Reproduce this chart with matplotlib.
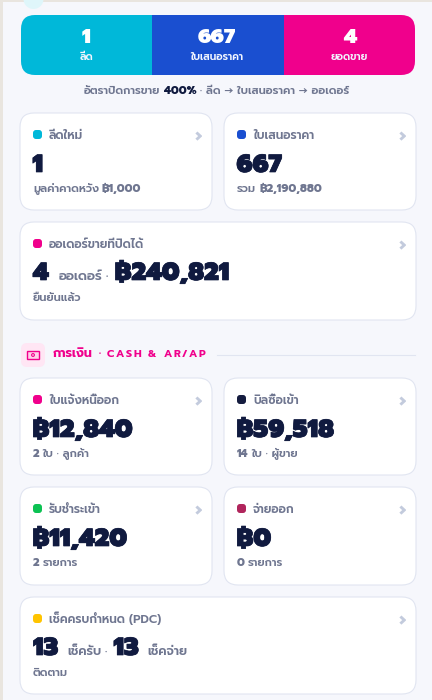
import matplotlib
matplotlib.use("Agg")
import matplotlib.pyplot as plt
import matplotlib.patheffects as pe
from matplotlib.patches import FancyBboxPatch, Rectangle, Circle

FAM = ["Prompt", "Noto Sans Thai", "DejaVu Sans"]
NAVY = "#101a3f"
GREY = "#6f7690"
BORDER = "#e1e5f1"

FUNNEL_VALUES = ["1", "667", "4"]
FUNNEL_LABELS = ["ลีด", "ใบเสนอราคา", "ยอดขาย"]
FUNNEL_COLORS = ["#00b8d9", "#1a4fd0", "#f0008c"]
CARD_TITLES = ["ลีดใหม่", "ใบเสนอราคา", "ออเดอร์ขายที่ปิดได้", "ใบแจ้งหนี้ออก", "บิลซื้อเข้า",
               "รับชำระเข้า", "จ่ายออก", "เช็คครบกำหนด (PDC)"]
CARD_VALUES = ["1", "667", "4", "฿12,840", "฿59,518", "฿11,420", "฿0", "13"]
# Each sub line: (plain before, bold figure, plain after)
CARD_SUBS = [("มูลค่าคาดหวัง", "฿1,000", ""), ("รวม", "฿2,190,880", ""), ("ยืนยันแล้ว", "", ""),
             ("", "2", "ใบ · ลูกค้า"), ("", "14", "ใบ · ผู้ขาย"),
             ("", "2", "รายการ"), ("", "0", "รายการ"), ("ติดตาม", "", "")]
CARD_DOTS = ["#00b8d9", "#1a4fd0", "#f0008c", "#f0008c", "#151c3f", "#0cc253", "#b0255c", "#ffc400"]
ORDER_VALUE = "฿240,821"
HEADER_THAI = "การเงิน"
HEADER_LATIN = "CASH & AR/AP"

BIG = 17.9
BIG_FX = [pe.withStroke(linewidth=0.5, foreground=NAVY)]

fig = plt.figure(figsize=(4.32, 7.0), dpi=100, facecolor="#f6f7fc")
ax = fig.add_axes([0, 0, 1, 1])
ax.set_xlim(0, 432)
ax.set_ylim(700, 0)
ax.axis("off")
rend = fig.canvas.get_renderer()


def T(x, y, s, size, color=GREY, weight=500, ha="left", **kw):
    t = ax.text(x, y, s, fontsize=size, color=color, fontweight=weight, ha=ha, va="baseline",
                family=FAM, **kw)
    if size == BIG:
        t.set_path_effects(BIG_FX)
    return t


def run(x, y, parts):
    """parts: (text, size, color, weight, gap-after)"""
    for s, size, color, weight, gap in parts:
        if s:
            t = T(x, y, s, size, color, weight)
            x = t.get_window_extent(rend).x1 + gap
    return x


def rrect(x0, y0, x1, y1, r, fc, ec="none", lw=1.0, z=2):
    ax.add_patch(FancyBboxPatch((x0 + r, y0 + r), x1 - x0 - 2 * r, y1 - y0 - 2 * r,
                                boxstyle=f"round,pad={r},rounding_size={r}", fc=fc, ec=ec, lw=lw, zorder=z))


def card(i, x0, y0, x1, y1, value=True):
    rrect(x0, y0, x1, y1, 14, "white", BORDER, 0.8)
    rrect(x0 + 13, y0 + 17, x0 + 22, y0 + 26, 3, CARD_DOTS[i], z=3)
    T(x0 + 29, y0 + 26, CARD_TITLES[i], 8.5, GREY, 600)
    T(x1 - 14, y0 + 29, "›", 13, "#c3cbdd", 800, ha="center")
    if value:
        T(x0 + 12.5, y0 + 59, CARD_VALUES[i], BIG, NAVY, 900)
    a, b, c = CARD_SUBS[i]
    run(x0 + 13, y0 + 79, [(a, 8.0, GREY, 600, 3), (b, 8.0, GREY, 800, 3), (c, 8.0, GREY, 600, 0)])


# page edges
ax.add_patch(Rectangle((0, 0), 432, 2, fc="#e9e5df", ec="none", zorder=1))
ax.add_patch(Rectangle((0, 0), 3, 700, fc="#e9e5df", ec="none", zorder=1))
ax.add_patch(Circle((33.5, -1), 10, fc="#dff6fa", ec="none", zorder=1))

# funnel band
edges = [21, 152, 284, 415]
clip = FancyBboxPatch((35, 29), 366, 32, boxstyle="round,pad=14,rounding_size=14", fc="none", ec="none")
ax.add_patch(clip)
for i in range(3):
    r = Rectangle((edges[i], 15), edges[i + 1] - edges[i], 60, fc=FUNNEL_COLORS[i], ec="none", zorder=2)
    ax.add_patch(r)
    r.set_clip_path(clip)
    c = (edges[i] + edges[i + 1]) / 2 - (1 if i == 1 else 0)
    T(c, 43, FUNNEL_VALUES[i], 15, "white", 900, ha="center", zorder=4)
    T(c, 60, FUNNEL_LABELS[i], 7.4, "#f2f6ff", 600, ha="center", zorder=4)

# conversion line
run(84, 94, [("อัตราปิดการขาย", 8.0, GREY, 600, 4), ("400%", 8.0, NAVY, 800, 3),
             ("· ลีด → ใบเสนอราคา → ออเดอร์", 8.0, GREY, 600, 0)])

# sales cards
card(0, 20, 113, 212, 210)
card(1, 224, 113, 416, 210)
card(2, 20, 222, 416, 320, value=False)
run(33, 280, [(CARD_VALUES[2], BIG, NAVY, 900, 10), ("ออเดอร์", 9.4, GREY, 600, 3), ("·", 9.4, GREY, 600, 7),
              (ORDER_VALUE, BIG, NAVY, 900, 0)])

# section header
rrect(21, 343, 45, 367, 6, "#ffe6f4")
ax.add_patch(Rectangle((27, 351), 12, 8, fc="#ffd0ea", ec="#f0008c", lw=1.0, zorder=3))
ax.add_patch(Circle((33, 355), 1.4, fc="none", ec="#f0008c", lw=0.8, zorder=4))
hx = run(53, 357, [(HEADER_THAI, 9.0, "#f0008c", 700, 6), ("·", 8.2, "#f0008c", 700, 6)])
for ch in HEADER_LATIN:
    if ch == " ":
        hx += 5.5
        continue
    t = T(hx, 357, ch, 7.6, "#f0008c", 700)
    hx = t.get_window_extent(rend).x1 + 1.6
ax.plot([217, 415], [354.5, 354.5], color=BORDER, lw=0.8, zorder=2)

# finance cards
card(3, 20, 378, 212, 475)
card(4, 224, 378, 416, 475)
card(5, 20, 487, 212, 585)
card(6, 224, 487, 416, 585)
card(7, 20, 597, 416, 694, value=False)
run(33, 655, [(CARD_VALUES[7], BIG, NAVY, 900, 9), ("เช็ครับ", 9.0, GREY, 600, 3), ("·", 9.0, GREY, 600, 7),
              (CARD_VALUES[7], BIG, NAVY, 900, 9), ("เช็คจ่าย", 9.0, GREY, 600, 0)])

fig.savefig("out.png", dpi=100, facecolor=fig.get_facecolor())
